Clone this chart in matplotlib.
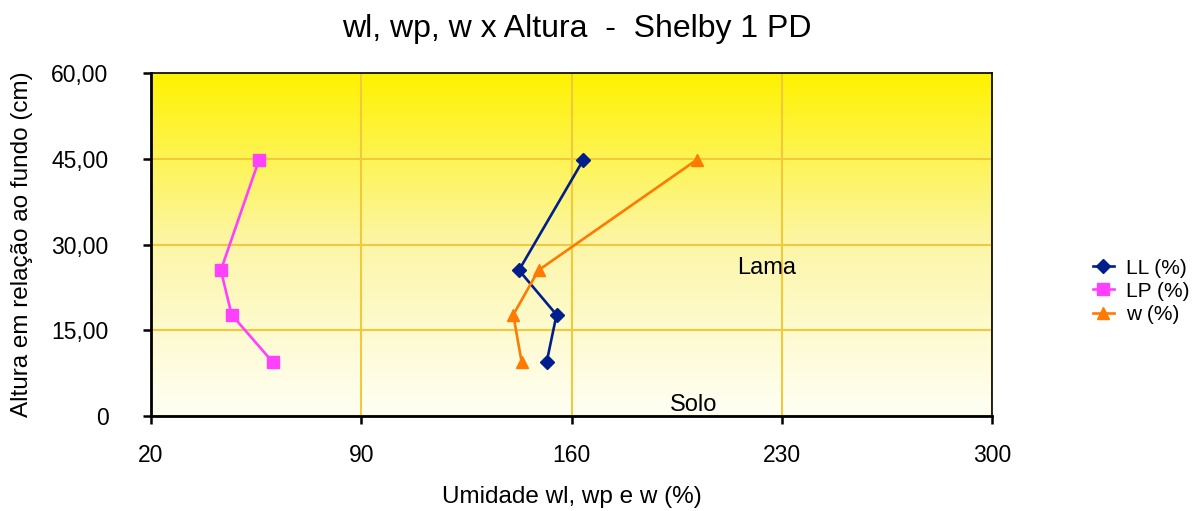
import numpy as np
import matplotlib
matplotlib.use("Agg")
import matplotlib.pyplot as plt
from matplotlib.colors import LinearSegmentedColormap

# Dados (umidade % x altura cm)
altura = [44.8, 25.5, 17.7, 9.4]
ll = [163.9, 142.5, 155.0, 151.7]
lp = [56.0, 43.3, 46.9, 60.6]
w = [201.6, 149.0, 140.6, 143.4]

x_ticks = [20, 90, 160, 230, 300]
y_ticks = [0, 15, 30, 45, 60]
y_labels = ['0', '15,00', '30,00', '45,00', '60,00']

plt.rcParams['font.family'] = ['Liberation Sans', 'DejaVu Sans']

fig = plt.figure(figsize=(11.97, 5.11), dpi=100)
ax = fig.add_axes([0.126, 0.186, 0.703, 0.671])

# fundo em degradê amarelo -> branco
cmap = LinearSegmentedColormap.from_list('fundo', ['#FFFFF5', '#FCF6A8', '#FFF200'])
grad = np.linspace(0, 1, 256).reshape(-1, 1)
ax.imshow(grad, cmap=cmap, origin='lower', aspect='auto',
          extent=[0, 1, 0, 1], transform=ax.transAxes, zorder=0)

ax.set_xlim(20, 300)
ax.set_ylim(0, 60)
ax.set_xticks(x_ticks)
ax.set_yticks(y_ticks)
ax.set_yticklabels(y_labels)
ax.grid(True, color='#F2C93A', linewidth=1.5, zorder=1)
ax.set_axisbelow(False)

ax.plot(ll, altura, color='#001E8C', marker='D', markersize=7.5, linewidth=1.9,
        label='LL (%)', zorder=3)
ax.plot(lp, altura, color='#FF40FF', marker='s', markersize=8.5, linewidth=1.9,
        label='LP (%)', zorder=3)
ax.plot(w, altura, color='#FF7A00', marker='^', markersize=9, linewidth=1.9,
        label='w (%)', zorder=3)

ax.text(225, 25.9, 'Lama', fontsize=17, ha='center', va='center')
ax.text(200.7, 1.9, 'Solo', fontsize=17, ha='center', va='center')

for s in ['top', 'right']:
    ax.spines[s].set_linewidth(1.2)
for s in ['left', 'bottom']:
    ax.spines[s].set_linewidth(2)
for s in ax.spines.values():
    s.set_zorder(4)
ax.tick_params(axis='both', labelsize=16.5, width=1.8, length=6, direction='out')
ax.tick_params(axis='x', pad=14)
ax.tick_params(axis='y', pad=24.5)

ax.set_xlabel('Umidade wl, wp e w (%)', fontsize=17.5, labelpad=14)
ax.set_ylabel('Altura em relação ao fundo (cm)', fontsize=17.5)
ax.yaxis.set_label_coords(-0.140, 0.5)
fig.text(0.482, 0.944, 'wl, wp, w x Altura  -  Shelby 1 PD', fontsize=23,
         ha='center', va='center')

fig.legend(loc='center left', bbox_to_anchor=(0.913, 0.43), frameon=False,
           fontsize=15, handlelength=1.0, labelspacing=0.2, handletextpad=0.6,
           borderpad=0, borderaxespad=0)

fig.savefig('out.png', dpi=100)
